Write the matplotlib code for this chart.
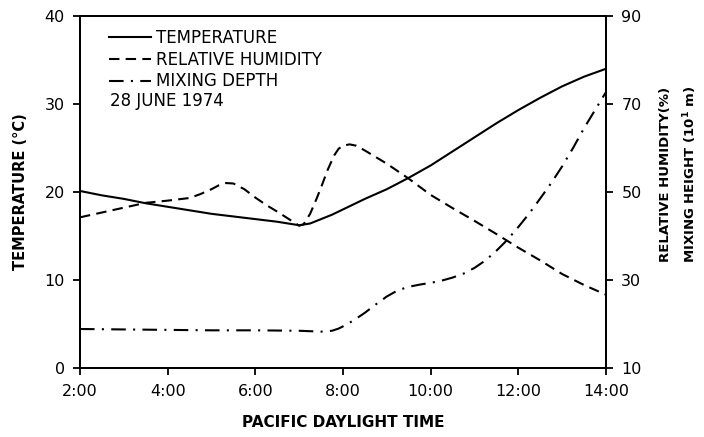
import matplotlib
matplotlib.use("Agg")
import matplotlib.pyplot as plt

# Hours (Pacific Daylight Time)
hours_t = [2.0, 2.5, 3.0, 3.5, 4.0, 4.5, 5.0, 5.5, 6.0, 6.5, 7.0, 7.25, 7.5, 7.75, 8.0,
           8.5, 9.0, 9.5, 10.0, 10.5, 11.0, 11.5, 12.0, 12.5, 13.0, 13.5, 14.0]
temperature = [20.1, 19.6, 19.2, 18.7, 18.3, 17.9, 17.5, 17.2, 16.9, 16.6, 16.2, 16.4, 16.9, 17.4, 18.0,
               19.2, 20.3, 21.6, 23.0, 24.6, 26.2, 27.8, 29.3, 30.7, 32.0, 33.1, 34.0]

hours_rh = [2.0, 2.5, 3.0, 3.5, 4.0, 4.5, 4.75, 5.0, 5.17, 5.33, 5.5, 5.75, 6.0, 6.25, 6.5, 6.75,
            7.0, 7.1, 7.25, 7.4, 7.5, 7.65, 7.8, 7.9, 8.0, 8.15, 8.3, 8.5, 8.75, 9.0, 9.5,
            10.0, 10.5, 11.0, 11.5, 12.0, 12.5, 13.0, 13.5, 14.0]
rel_humidity = [44.2, 45.3, 46.4, 47.5, 48.0, 48.6, 49.5, 50.6, 51.5, 52.0, 51.9, 50.6, 48.7, 47.0, 45.5, 43.9,
                42.3, 42.6, 45.0, 48.5, 51.0, 55.0, 58.3, 59.8, 60.5, 60.8, 60.5, 59.4, 57.9, 56.4, 53.0,
                49.3, 46.3, 43.4, 40.4, 37.3, 34.4, 31.3, 28.8, 26.6]

hours_md = [2.0, 3.0, 4.0, 5.0, 6.0, 7.0, 7.5, 7.75, 7.9, 8.0, 8.25, 8.5, 8.75, 9.0, 9.25, 9.5,
            9.75, 10.0, 10.25, 10.5, 10.75, 11.0, 11.25, 11.5, 11.75, 12.0, 12.25, 12.5,
            12.75, 13.0, 13.25, 13.5, 13.75, 14.0]
mixing_depth = [18.8, 18.7, 18.6, 18.5, 18.5, 18.4, 18.2, 18.4, 18.9, 19.4, 20.8, 22.5, 24.4, 26.2, 27.6, 28.4,
                28.9, 29.3, 29.8, 30.5, 31.4, 32.7, 34.4, 36.6, 39.1, 42.0, 45.1, 48.5,
                52.0, 55.8, 60.0, 64.5, 68.6, 72.7]

x_ticks = [2, 4, 6, 8, 10, 12, 14]
x_tick_labels = ["2:00", "4:00", "6:00", "8:00", "10:00", "12:00", "14:00"]
left_ticks = [0, 10, 20, 30, 40]
right_ticks = [10, 30, 50, 70, 90]

fig = plt.figure(figsize=(7.04, 4.37), dpi=100)
ax = fig.add_axes([0.1136, 0.1586, 0.7472, 0.8048])
ax2 = ax.twinx()

lw = 1.5
l1, = ax.plot(hours_t, temperature, color="black", lw=lw, ls="-", label="TEMPERATURE")
l2, = ax2.plot(hours_rh, rel_humidity, color="black", lw=lw, ls=(0, (5, 3)),
               label="RELATIVE HUMIDITY")
l3, = ax2.plot(hours_md, mixing_depth, color="black", lw=lw, ls=(0, (7, 3.5, 1, 3.5)),
               label="MIXING DEPTH")

ax.set_xlim(2, 14)
ax.set_ylim(0, 40)
ax2.set_ylim(10, 90)
ax.set_xticks(x_ticks)
ax.set_xticklabels(x_tick_labels)
ax.set_yticks(left_ticks)
ax2.set_yticks(right_ticks)

for a in (ax, ax2):
    a.tick_params(direction="out", length=5, width=1.3, labelsize=11.5, pad=6)
    for s in a.spines.values():
        s.set_linewidth(1.4)
ax.tick_params(axis="x", pad=7)

ax.set_xlabel("PACIFIC DAYLIGHT TIME", fontsize=11, fontweight="bold", labelpad=11)
ax.set_ylabel("TEMPERATURE (°C)", fontsize=10.5, fontweight="bold", labelpad=12)

fig.text(0.945, 0.60, "RELATIVE HUMIDITY(%)", rotation=90, ha="center", va="center",
         fontsize=9.5, fontweight="bold")
fig.text(0.98, 0.60, r"MIXING HEIGHT (10$^{\mathbf{1}}$ m)", rotation=90, ha="center",
         va="center", fontsize=9.5, fontweight="bold")

leg = ax.legend(handles=[l1, l2, l3], loc="upper left", bbox_to_anchor=(0.037, 0.991),
                frameon=False, fontsize=12, handlelength=2.5, handletextpad=0.3,
                labelspacing=0.22, borderaxespad=0.2)
ax.text(0.057, 0.757, "28 JUNE 1974", transform=ax.transAxes, fontsize=12,
        ha="left", va="center")

fig.savefig("out.png", dpi=100)
